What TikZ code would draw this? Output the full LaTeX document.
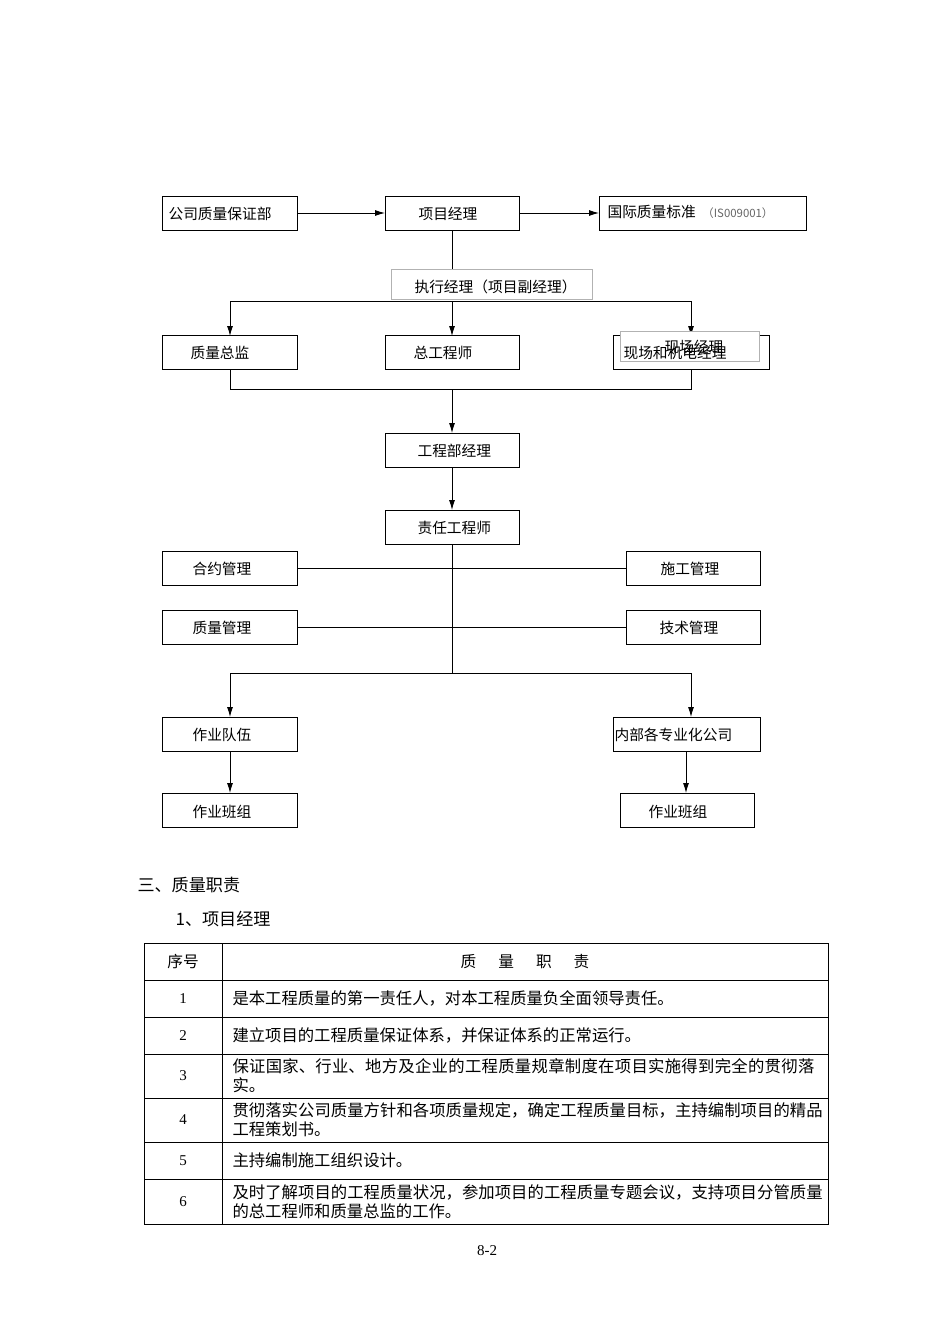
\documentclass[tikz,border=0pt]{standalone}
\usepackage{fontspec}
\setmainfont{Liberation Serif}
\newfontfamily\cjk{Noto Sans CJK SC}[Scale=0.95]
\XeTeXlinebreaklocale "zh"
\XeTeXlinebreakskip=0pt plus 1pt
\usetikzlibrary{arrows.meta}
\begin{document}
\begin{tikzpicture}[x=1pt,y=-1pt,
  bx/.style={draw,line width=0.9pt,inner sep=0},
  gbx/.style={draw=black!30,fill=white,line width=0.8pt},
  lbl/.style={font=\cjk\fontsize{15.5}{17}\selectfont,anchor=west},
  ln/.style={line width=0.9pt},
  ar/.style={line width=0.9pt,-{Latex[length=10pt,width=6pt]}},
  tx/.style={font=\cjk\fontsize{17.2}{19}\selectfont,anchor=west,align=left,text width=592pt}]
\useasboundingbox (0,0) rectangle (950,1344);
% boxes
\draw[bx] (162,196) rectangle (297,230); \node[lbl] (a) at (165,214) {公司质量保证部};
\draw[bx] (385,196) rectangle (519,230); \node[lbl] (b) at (415,214) {项目经理};
\draw[bx] (599,196) rectangle (806,230); \node[lbl] (c) at (604,212) {国际质量标准 \ {\color{black!60}\fontsize{12}{12}\selectfont（IS009001）}};
\draw[ar] (297,213) -- (385,213);
\draw[ar] (519,213) -- (599,213);
\draw[ln] (452,230) -- (452,270);
\draw[gbx] (391,269) rectangle (592,299); \node[lbl] (d) at (411,287) {执行经理（项目副经理）};
\draw[ln] (230,301) -- (691,301);
\draw[ar] (230,301) -- (230,336);
\draw[ar] (452,301) -- (452,336);
\draw[ar] (691,301) -- (691,336);
\draw[bx] (162,335) rectangle (297,369); \node[lbl] (e) at (187,353) {质量总监};
\draw[bx] (385,335) rectangle (519,369); \node[lbl] (f) at (410,353) {总工程师};
\draw[bx] (613,335) rectangle (769,369);
\draw[gbx] (620,331) rectangle (759,361);
\node[lbl] at (661,347) {现场经理};
\node[lbl] (g) at (620,353) {现场和机电经理};
\draw[ln] (230,369) -- (230,389) -- (691,389) -- (691,369);
\draw[ar] (452,389) -- (452,433);
\draw[bx] (385,433) rectangle (519,467); \node[lbl] (h) at (414,451) {工程部经理};
\draw[ar] (452,467) -- (452,510);
\draw[bx] (385,510) rectangle (519,544); \node[lbl] (i) at (414,528) {责任工程师};
\draw[ln] (452,544) -- (452,673);
\draw[bx] (162,551) rectangle (297,585); \node[lbl] (j) at (189,569) {合约管理};
\draw[bx] (626,551) rectangle (760,585); \node[lbl] (k) at (657,569) {施工管理};
\draw[ln] (297,568) -- (626,568);
\draw[bx] (162,610) rectangle (297,644); \node[lbl] (l) at (189,628) {质量管理};
\draw[bx] (626,610) rectangle (760,644); \node[lbl] (m) at (656,628) {技术管理};
\draw[ln] (297,627) -- (626,627);
\draw[ln] (230,673) -- (691,673);
\draw[ar] (230,673) -- (230,717);
\draw[ar] (691,673) -- (691,717);
\draw[bx] (162,717) rectangle (297,751); \node[lbl] (n) at (189,735) {作业队伍};
\draw[bx] (613,717) rectangle (760,751); \node[lbl] (o) at (611,735) {内部各专业化公司};
\draw[ar] (230,751) -- (230,793);
\draw[ar] (686,751) -- (686,793);
\draw[bx] (162,793) rectangle (297,827); \node[lbl] (p) at (189,812) {作业班组};
\draw[bx] (620,793) rectangle (754,827); \node[lbl] (q) at (645,812) {作业班组};
% text
\node[anchor=west,font=\cjk\fontsize{18}{20}\selectfont] (t1) at (134,885) {三、质量职责};
\node[anchor=west,font=\cjk\fontsize{18}{20}\selectfont] (t2) at (172,919) {1、项目经理};
% table
\draw[line width=0.9pt] (144,943) rectangle (828,1224);
\foreach \yy in {980,1017,1054,1098,1142,1179} \draw[line width=0.9pt] (144,\yy) -- (828,\yy);
\draw[line width=0.9pt] (222,943) -- (222,1224);
\node[font=\cjk\fontsize{16.5}{16}\selectfont] at (183,962) {序号};
\node[font=\cjk\fontsize{16.5}{16}\selectfont] at (525,962) {质\hspace{22pt}量\hspace{22pt}职\hspace{22pt}责};
\foreach \n/\yy in {1/998.5,2/1035.5,3/1076,4/1120,5/1160.5,6/1201.5} \node[font=\fontsize{15}{16}\selectfont] at (183,\yy) {\n};
\node[tx] at (229,998.5) {是本工程质量的第一责任人，对本工程质量负全面领导责任。};
\node[tx] at (229,1035.5) {建立项目的工程质量保证体系，并保证体系的正常运行。};
\node[tx] at (229,1076) {保证国家、行业、地方及企业的工程质量规章制度在项目实施得到完全的贯彻落实。};
\node[tx] at (229,1120) {贯彻落实公司质量方针和各项质量规定，确定工程质量目标，主持编制项目的精品工程策划书。};
\node[tx] at (229,1160.5) {主持编制施工组织设计。};
\node[tx] at (229,1201.5) {及时了解项目的工程质量状况，参加项目的工程质量专题会议，支持项目分管质量的总工程师和质量总监的工作。};
\node[font=\fontsize{15}{16}\selectfont] at (487,1251) {8-2};
\end{tikzpicture}
\end{document}
